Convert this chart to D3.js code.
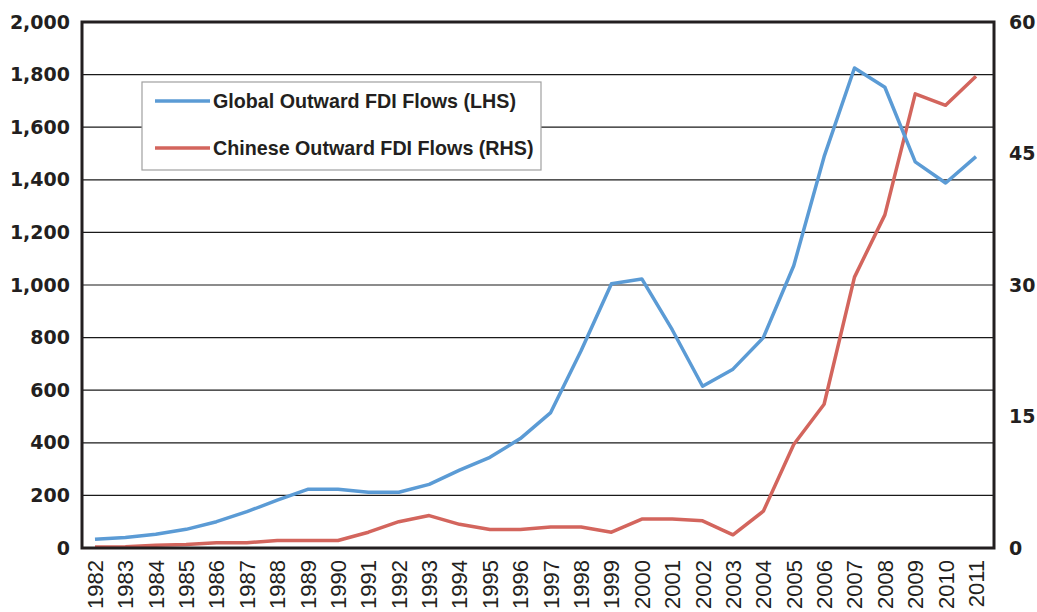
<!DOCTYPE html>
<html>
<head>
<meta charset="utf-8">
<script src="https://cdn.jsdelivr.net/npm/d3@7"></script>
<style>
  body { margin: 0; background: #fff; }
  svg { display: block; }
</style>
</head>
<body>
<svg></svg>
<script>
var WIDTH = 1037;
var HEIGHT = 612;

// years on the x axis
var years = ['1982', '1983', '1984', '1985', '1986', '1987', '1988', '1989', '1990', '1991',
  '1992', '1993', '1994', '1995', '1996', '1997', '1998', '1999', '2000', '2001',
  '2002', '2003', '2004', '2005', '2006', '2007', '2008', '2009', '2010', '2011'];

// global outward FDI flows, left scale
var globalFlows = [33, 40, 52, 71, 100, 138, 182, 223, 223, 212,
  212, 242, 296, 345, 416, 515, 750, 1005, 1023, 830,
  615, 680, 800, 1073, 1488, 1825, 1752, 1468, 1388, 1488];

// chinese outward FDI flows, right scale
var chinaFlows = [0.1, 0.15, 0.3, 0.4, 0.6, 0.6, 0.85, 0.85, 0.85, 1.8,
  3.0, 3.7, 2.7, 2.1, 2.1, 2.4, 2.4, 1.8, 3.3, 3.3,
  3.1, 1.5, 4.2, 11.8, 16.4, 30.9, 38.0, 51.8, 50.5, 53.8];

var leftTicks = [0, 200, 400, 600, 800, 1000, 1200, 1400, 1600, 1800, 2000];
var rightTicks = [0, 15, 30, 45, 60];

var seriesNames = ['Global Outward FDI Flows (LHS)', 'Chinese Outward FDI Flows (RHS)'];

var BLUE = '#5b9bd5';
var RED = '#d3655d';

// plot area (window.top is reserved, so prefixed names)
var plotLeft = 82, plotRight = 994, plotTop = 22, plotBottom = 548;

var svg = d3.select('svg')
  .attr('width', WIDTH)
  .attr('height', HEIGHT);

var xScale = d3.scalePoint().domain(years).range([plotLeft + 13, plotRight - 18]);
var yLeft = d3.scaleLinear().domain([0, 2000]).range([plotBottom, plotTop]);
var yRight = d3.scaleLinear().domain([0, 60]).range([plotBottom, plotTop]);

// gridlines
svg.append('g')
  .selectAll('line')
  .data(leftTicks.slice(1, -1))
  .enter()
  .append('line')
  .attr('x1', plotLeft)
  .attr('x2', plotRight)
  .attr('y1', function(d) { return yLeft(d); })
  .attr('y2', function(d) { return yLeft(d); })
  .attr('stroke', '#1a1a1a')
  .attr('stroke-width', 1.2);

// left axis labels
var leftAxis = d3.axisLeft(yLeft)
  .tickValues(leftTicks)
  .tickSize(0)
  .tickPadding(12)
  .tickFormat(d3.format(','));
var gl = svg.append('g')
  .attr('transform', 'translate(' + plotLeft + ',0)')
  .call(leftAxis);
gl.select('.domain').remove();
gl.selectAll('text')
  .style('font-family', 'DejaVu Sans, sans-serif')
  .style('font-weight', 'bold')
  .style('font-size', '19px')
  .attr('fill', '#231f20');

// right axis labels
var rightAxis = d3.axisRight(yRight)
  .tickValues(rightTicks)
  .tickSize(0)
  .tickPadding(15);
var gr = svg.append('g')
  .attr('transform', 'translate(' + plotRight + ',0)')
  .call(rightAxis);
gr.select('.domain').remove();
gr.selectAll('text')
  .style('font-family', 'DejaVu Sans, sans-serif')
  .style('font-weight', 'bold')
  .style('font-size', '19px')
  .attr('fill', '#231f20');

// year labels, rotated
svg.append('g')
  .selectAll('text')
  .data(years)
  .enter()
  .append('text')
  .attr('transform', function(d) { return 'translate(' + xScale(d) + ',560) rotate(-90)'; })
  .attr('text-anchor', 'end')
  .attr('dy', '0.36em')
  .style('font-family', 'Liberation Sans, Arial, sans-serif')
  .style('font-size', '22px')
  .attr('fill', '#231f20')
  .text(function(d) { return d; });

// lines
var globalLine = d3.line()
  .x(function(d, i) { return xScale(years[i]); })
  .y(function(d) { return yLeft(d); });
var chinaLine = d3.line()
  .x(function(d, i) { return xScale(years[i]); })
  .y(function(d) { return yRight(d); });

svg.append('path')
  .datum(chinaFlows)
  .attr('d', chinaLine)
  .attr('fill', 'none')
  .attr('stroke', RED)
  .attr('stroke-width', 3.5)
  .attr('stroke-linejoin', 'round');

svg.append('path')
  .datum(globalFlows)
  .attr('d', globalLine)
  .attr('fill', 'none')
  .attr('stroke', BLUE)
  .attr('stroke-width', 3.5)
  .attr('stroke-linejoin', 'round');

// frame
svg.append('rect')
  .attr('x', plotLeft)
  .attr('y', plotTop)
  .attr('width', plotRight - plotLeft)
  .attr('height', plotBottom - plotTop)
  .attr('fill', 'none')
  .attr('stroke', '#231f20')
  .attr('stroke-width', 3);

// legend
var legend = svg.append('g').attr('transform', 'translate(142,82)');
legend.append('rect')
  .attr('width', 399)
  .attr('height', 88)
  .attr('fill', '#fff')
  .attr('stroke', '#a0a0a0')
  .attr('stroke-width', 1.2);

var legendColors = [BLUE, RED];
var items = legend.selectAll('g.item')
  .data(seriesNames)
  .enter()
  .append('g')
  .attr('class', 'item')
  .attr('transform', function(d, i) { return 'translate(0,' + (19 + i * 47) + ')'; });
items.append('line')
  .attr('x1', 13)
  .attr('x2', 68)
  .attr('stroke', function(d, i) { return legendColors[i]; })
  .attr('stroke-width', 3.5);
items.append('text')
  .attr('x', 71)
  .attr('dy', '0.36em')
  .style('font-family', 'Liberation Sans Narrow, Arial Narrow, sans-serif')
  .style('font-stretch', 'condensed')
  .style('font-weight', 'bold')
  .style('font-size', '19.7px')
  .attr('fill', '#231f20')
  .text(function(d) { return d; });
</script>
</body>
</html>
